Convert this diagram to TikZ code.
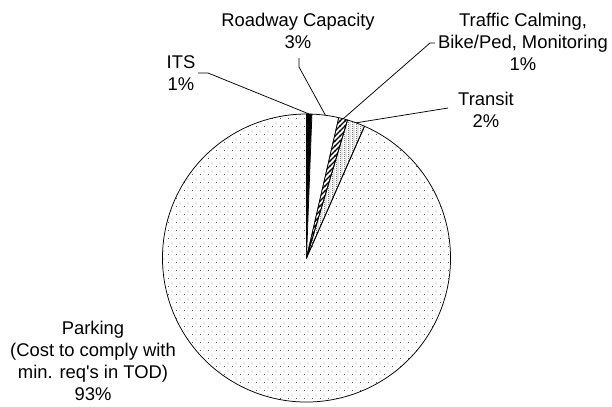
\documentclass[tikz,border=0pt]{standalone}
\usepackage{fontspec}
\setmainfont{Liberation Sans}
\usetikzlibrary{patterns}

\pgfdeclarepatternformonly{sparsedots}{\pgfqpoint{0bp}{0bp}}{\pgfqpoint{8bp}{8bp}}{\pgfqpoint{8bp}{8bp}}{%
  \pgfpathrectangle{\pgfqpoint{0bp}{0bp}}{\pgfqpoint{1bp}{1bp}}%
  \pgfpathrectangle{\pgfqpoint{4bp}{4bp}}{\pgfqpoint{1bp}{1bp}}%
  \pgfusepath{fill}}
\pgfdeclarepatternformonly{densedots}{\pgfqpoint{0bp}{0bp}}{\pgfqpoint{4bp}{2bp}}{\pgfqpoint{4bp}{2bp}}{%
  \pgfpathrectangle{\pgfqpoint{0bp}{0bp}}{\pgfqpoint{1bp}{1bp}}%
  \pgfpathrectangle{\pgfqpoint{2bp}{1bp}}{\pgfqpoint{1bp}{1bp}}%
  \pgfusepath{fill}}
\pgfdeclarepatternformonly{widehatch}{\pgfqpoint{-1bp}{-1bp}}{\pgfqpoint{6bp}{6bp}}{\pgfqpoint{5bp}{5bp}}{%
  \pgfsetlinewidth{1.4bp}%
  \pgfpathmoveto{\pgfqpoint{-0.5bp}{-0.5bp}}\pgfpathlineto{\pgfqpoint{5.5bp}{5.5bp}}%
  \pgfusepath{stroke}}

\newcommand{\straightquote}{{\XeTeXglyph\the\XeTeXcharglyph"0027\relax}}

\begin{document}
\begin{tikzpicture}[x=1bp,y=-1bp,
  lbl/.style={font=\fontsize{18.4bp}{22bp}\selectfont, align=center, inner sep=0pt},
  slice/.style={draw=black, line width=0.75bp, line join=round},
  leader/.style={draw=black, line width=0.75bp}]
\fill[white] (0,0) rectangle (612,406);
\useasboundingbox (0,0) rectangle (612,406);
\coordinate (C) at (306.5,258);
\begin{scope}[shift={(C)}]
  \path[slice, pattern=sparsedots, pattern color=black!65]
    (0,0) -- (-66.24:144) arc[start angle=-66.24, end angle=270, radius=144] -- cycle;
  \path[slice, fill=black]
    (0,0) -- (-90:144) arc[start angle=-90, end angle=-87.84, radius=144] -- cycle;
  \path[slice, fill=white]
    (0,0) -- (-87.84:144) arc[start angle=-87.84, end angle=-77.04, radius=144] -- cycle;
  \fill[white] (0,0) -- (-77.04:144) arc[start angle=-77.04, end angle=-73.44, radius=144] -- cycle;
  \path[slice, pattern=widehatch, pattern color=black]
    (0,0) -- (-77.04:144) arc[start angle=-77.04, end angle=-73.44, radius=144] -- cycle;
  \path[slice, pattern=densedots, pattern color=black!80]
    (0,0) -- (-73.44:144) arc[start angle=-73.44, end angle=-66.24, radius=144] -- cycle;
  \coordinate (itsTip) at (-88.92:144);
  \coordinate (roadTip) at (-82.44:144);
  \coordinate (trafTip) at (-75.24:144);
  \coordinate (tranTip) at (-69.84:144);
\end{scope}

\node[lbl] (its) at (181,73) {ITS\\1\%};
\node[lbl] (road) at (298,31) {Roadway Capacity\\3\%};
\node[lbl] (traf) at (523,41.5) {Traffic Calming,\\Bike/Ped, Monitoring\\1\%};
\node[lbl] (tran) at (486,110) {Transit\\2\%};
\node[lbl] (park) at (93,361) {Parking\\(Cost to comply with\\min. req\straightquote s in TOD)\\93\%};

\coordinate (itsA) at (198,73);
\coordinate (itsB) at (208,73);
\coordinate (roadA) at (299,58);
\coordinate (roadB) at (299,67);
\coordinate (trafA) at (435,43);
\coordinate (trafB) at (430,43);
\coordinate (tranA) at (448,108);

\draw[leader] (itsA) -- (itsB) -- (itsTip);
\draw[leader] (roadA) -- (roadB) -- (roadTip);
\draw[leader] (trafA) -- (trafB) -- (trafTip);
\draw[leader] (tranA) -- (tranTip);
\end{tikzpicture}
\end{document}
